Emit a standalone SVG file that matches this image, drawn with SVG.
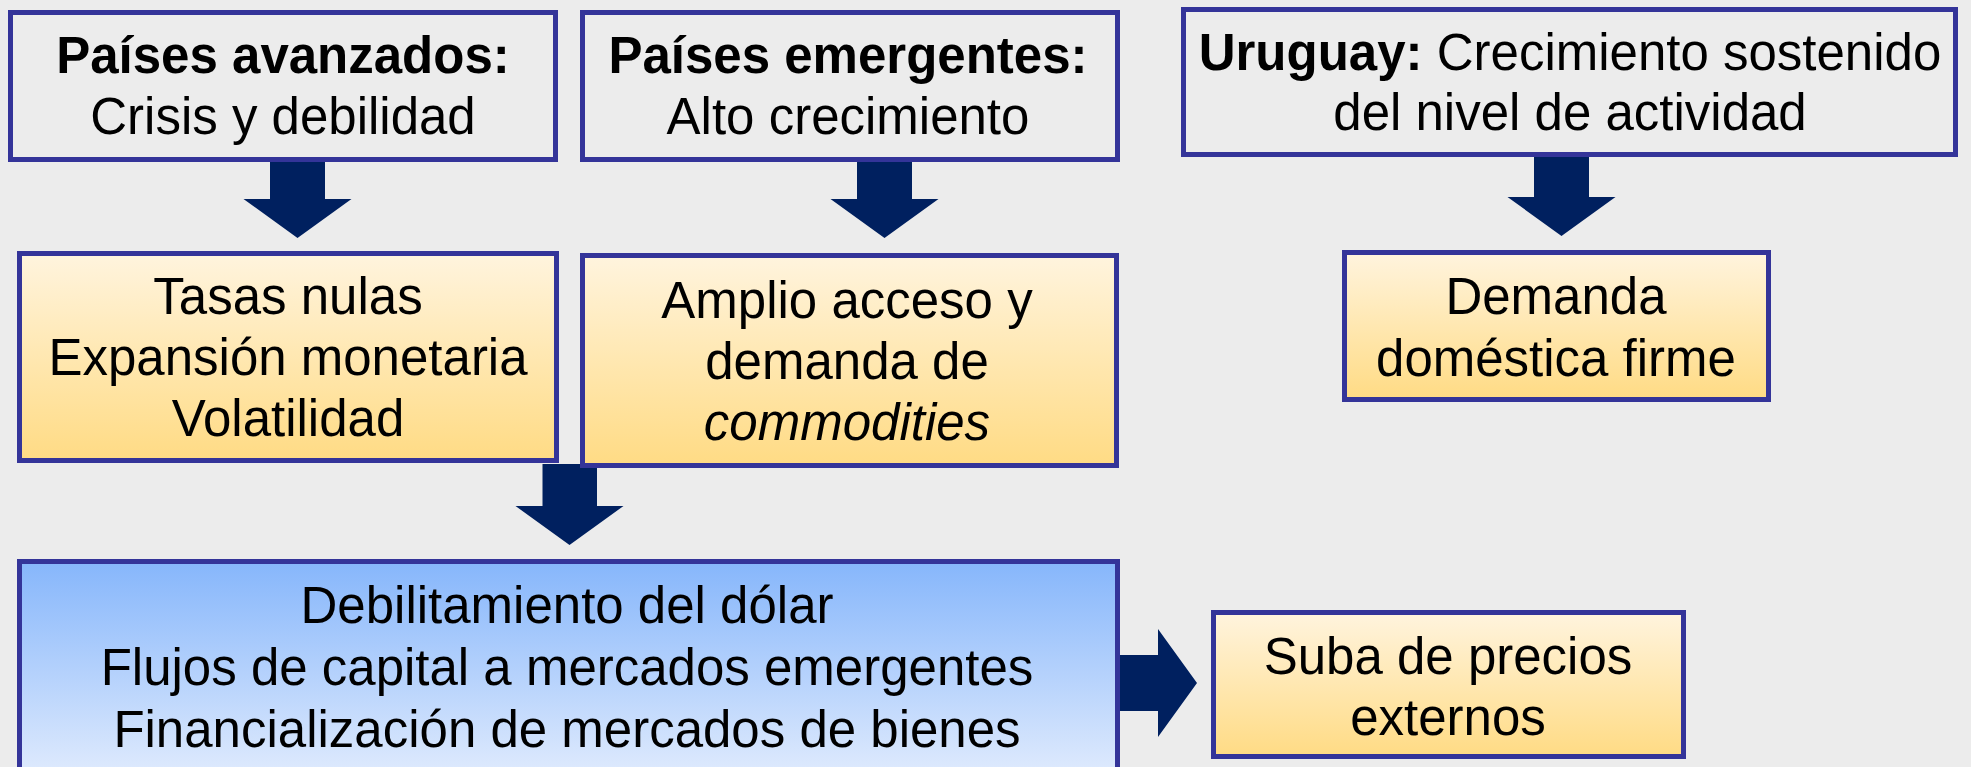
<svg xmlns="http://www.w3.org/2000/svg" width="1971" height="767" viewBox="0 0 1971 767">
<style>
.box{stroke:#343499;stroke-width:5}
.plain{fill:none}
.yel{fill:url(#gy)}
.blu{fill:url(#gb)}
.t{font-family:"Liberation Sans",Arial,sans-serif;font-size:51px;fill:#000;text-anchor:middle}
.b{font-weight:bold}
.arrow{fill:#00205f}
</style>
<defs>
<linearGradient id="gy" x1="0" y1="0" x2="0" y2="1">
<stop offset="0" stop-color="#fff4de"/>
<stop offset="1" stop-color="#ffdb84"/>
</linearGradient>
<linearGradient id="gb" x1="0" y1="0" x2="0" y2="1">
<stop offset="0" stop-color="#86b6fb"/>
<stop offset="0.85" stop-color="#dbe8fd"/>
<stop offset="1" stop-color="#e6effe"/>
</linearGradient>
</defs>
<rect x="0" y="0" width="1971" height="767" fill="#ececec"/>
<g id="connectors">
<polygon class="arrow" points="270,160 325,160 325,199 351.5,199 297.5,238 243.5,199 270,199"/>
<polygon class="arrow" points="857,160 912,160 912,199 938.5,199 884.5,238 830.5,199 857,199"/>
<polygon class="arrow" points="1534,155 1589,155 1589,197 1615.5,197 1561.5,236 1507.5,197 1534,197"/>
<polygon class="arrow" points="542.5,464 597,464 597,506 623.5,506 569.5,545 515.5,506 542.5,506"/>
<polygon class="arrow" points="1118,655 1158,655 1158,629 1197,683 1158,737 1158,711 1118,711"/>
</g>
<g id="avanzados">
<rect class="box plain" x="10.5" y="12.5" width="545" height="147"/>
<text class="t" x="283" y="73"><tspan class="b">Países avanzados:</tspan></text>
<text class="t" x="283" y="134">Crisis y debilidad</text>
</g>
<g id="emergentes">
<rect class="box plain" x="582.5" y="12.5" width="535" height="147"/>
<text class="t" x="848" y="73"><tspan class="b">Países emergentes:</tspan></text>
<text class="t" x="848" y="134">Alto crecimiento</text>
</g>
<g id="uruguay">
<rect class="box plain" x="1183.5" y="9.5" width="772" height="145"/>
<text class="t" x="1570" y="70"><tspan class="b">Uruguay:</tspan> Crecimiento sostenido</text>
<text class="t" x="1570" y="130">del nivel de actividad</text>
</g>
<g id="tasas">
<rect class="box yel" x="19.5" y="253.5" width="537" height="207"/>
<text class="t" x="288" y="314">Tasas nulas</text>
<text class="t" x="288" y="375">Expansión monetaria</text>
<text class="t" x="288" y="436">Volatilidad</text>
</g>
<g id="amplio">
<rect class="box yel" x="582.5" y="255.5" width="534" height="210"/>
<text class="t" x="847" y="318">Amplio acceso y</text>
<text class="t" x="847" y="379">demanda de</text>
<text class="t" x="847" y="440" font-style="italic">commodities</text>
</g>
<g id="demanda">
<rect class="box yel" x="1344.5" y="252.5" width="424" height="147"/>
<text class="t" x="1556" y="314">Demanda</text>
<text class="t" x="1556" y="376">doméstica firme</text>
</g>
<g id="debilitamiento">
<rect class="box blu" x="19.5" y="561.5" width="1098" height="240"/>
<text class="t" x="567" y="623">Debilitamiento del dólar</text>
<text class="t" x="567" y="685">Flujos de capital a mercados emergentes</text>
<text class="t" x="567" y="747">Financialización de mercados de bienes</text>
</g>
<g id="suba">
<rect class="box yel" x="1213.5" y="612.5" width="470" height="144"/>
<text class="t" x="1448" y="674">Suba de precios</text>
<text class="t" x="1448" y="735">externos</text>
</g>
</svg>
